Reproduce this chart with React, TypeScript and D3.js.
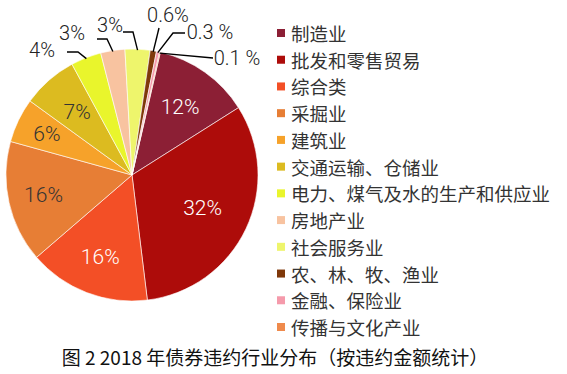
import { useEffect, useRef } from "react";
import * as d3 from "d3";

// 行业（图例顺序 = 扇区顺时针顺序）
const industries = [
  "制造业",
  "批发和零售贸易",
  "综合类",
  "采掘业",
  "建筑业",
  "交通运输、仓储业",
  "电力、煤气及水的生产和供应业",
  "房地产业",
  "社会服务业",
  "农、林、牧、渔业",
  "金融、保险业",
  "传播与文化产业",
];
// 按图估计的占比（%）
const shares = [12.4, 32, 15.6, 15.6, 5.7, 7.1, 3.9, 3.1, 3.2, 0.8, 0.4, 0.1];
// 图上标注的数字
const pctLabels = ["12%", "32%", "16%", "16%", "6%", "7%", "4%", "3%", "3%", "0.6%", "0.3 %", "0.1 %"];
const colors = [
  "#8c1f35",
  "#ad0c0a",
  "#f34f26",
  "#e77e35",
  "#f6a22a",
  "#dcbb20",
  "#e9f52c",
  "#f8c3a0",
  "#eef56c",
  "#7f380a",
  "#f59aab",
  "#ef8a4c",
];
const caption = "图 2 2018 年债券违约行业分布（按违约金额统计）";

export default function App() {
  const ref = useRef<SVGSVGElement>(null);

  useEffect(() => {
    const width = 567;
    const height = 374;
    const cx = 132;
    const cy = 175;
    const r = 126;

    const svg = d3.select(ref.current);
    svg.selectAll("*").remove();
    svg.attr("width", width).attr("height", height);
    svg.append("rect").attr("width", width).attr("height", height).attr("fill", "#fff");

    const data = industries.map((name, i) => ({ name, value: shares[i], label: pctLabels[i], color: colors[i] }));

    const start = (13 * Math.PI) / 180;
    const pie = d3
      .pie<any>()
      .sort(null)
      .value((d) => d.value)
      .startAngle(start)
      .endAngle(start + Math.PI * 2);
    const arcs = pie(data);
    const arc = d3.arc<any>().innerRadius(0).outerRadius(r);

    const g = svg.append("g").attr("transform", `translate(${cx},${cy})`);
    g.selectAll("path.slice")
      .data(arcs)
      .enter()
      .append("path")
      .attr("class", "slice")
      .attr("d", arc)
      .attr("fill", (d) => d.data.color)
      .attr("stroke", "#fff")
      .attr("stroke-width", 0.6);

    const fontPct = "Roboto, 'DejaVu Sans', sans-serif";

    // 扇区内标签
    const insideIdx = [0, 1, 2, 3, 4, 5];
    const insideColor = ["#fff", "#fff", "#fff", "#333", "#333", "#333"];
    const insideR = [0.66, 0.62, 0.7, 0.72, 0.75, 0.66];
    insideIdx.forEach((i, k) => {
      const a = (arcs[i].startAngle + arcs[i].endAngle) / 2;
      const rr = r * insideR[k];
      g.append("text")
        .attr("x", Math.sin(a) * rr)
        .attr("y", -Math.cos(a) * rr)
        .attr("text-anchor", "middle")
        .attr("dominant-baseline", "central")
        .attr("font-family", fontPct)
        .attr("font-weight", 300)
        .attr("font-size", 21)
        .attr("fill", insideColor[k])
        .text(arcs[i].data.label);
    });

    // 外部标签：引线从扇区边缘经折点到文字旁
    const outside = [
      { i: 6, bend: [-54, -123], end: [-65, -123], text: [-90, -125] },
      { i: 7, bend: [-25, -136], end: [-35, -136], text: [-60, -142] },
      { i: 8, bend: [1, -143], end: [-9, -143], text: [-22, -150] },
      { i: 9, bend: null, end: [27, -147], text: [36, -160] },
      { i: 10, bend: [41, -142], end: [53, -142], text: [78, -143] },
      { i: 11, bend: null, end: [81, -117], text: [105, -117] },
    ];
    const line = d3.line();
    outside.forEach((o) => {
      const d = arcs[o.i];
      const a = (d.startAngle + d.endAngle) / 2;
      const p: [number, number] = [Math.sin(a) * (r - 1), -Math.cos(a) * (r - 1)];
      const pts: [number, number][] = [p];
      if (o.bend) pts.push(o.bend as [number, number]);
      pts.push(o.end as [number, number]);
      g.append("path")
        .attr("d", line(pts))
        .attr("fill", "none")
        .attr("stroke", "#000")
        .attr("stroke-width", 1.4);
      g.append("text")
        .attr("x", o.text[0])
        .attr("y", o.text[1])
        .attr("text-anchor", "middle")
        .attr("dominant-baseline", "central")
        .attr("font-family", fontPct)
        .attr("font-weight", 300)
        .attr("font-size", 20)
        .attr("fill", "#222")
        .text(d.data.label);
    });

    // 图例
    const legendY = d3.scalePoint<string>().domain(industries).range([33, 327]);
    const lg = svg.append("g");
    industries.forEach((name, i) => {
      const y = legendY(name)!;
      lg.append("rect")
        .attr("x", 277)
        .attr("y", y - 4)
        .attr("width", 8)
        .attr("height", 8)
        .attr("fill", colors[i]);
      lg.append("text")
        .attr("x", 291)
        .attr("y", y)
        .attr("dominant-baseline", "central")
        .attr("font-family", "'Noto Sans CJK SC', sans-serif")
        .attr("font-size", 18.5)
        .attr("fill", "#333")
        .text(name);
    });

    svg
      .append("text")
      .attr("x", 275)
      .attr("y", 356)
      .attr("text-anchor", "middle")
      .attr("dominant-baseline", "central")
      .attr("font-family", "'Noto Sans CJK SC', sans-serif")
      .attr("font-size", 19)
      .attr("fill", "#111")
      .text(caption);
  }, []);

  return (
    <svg
      ref={ref}
      style={{ position: "absolute", left: 0, top: 0, display: "block" }}
    />
  );
}
